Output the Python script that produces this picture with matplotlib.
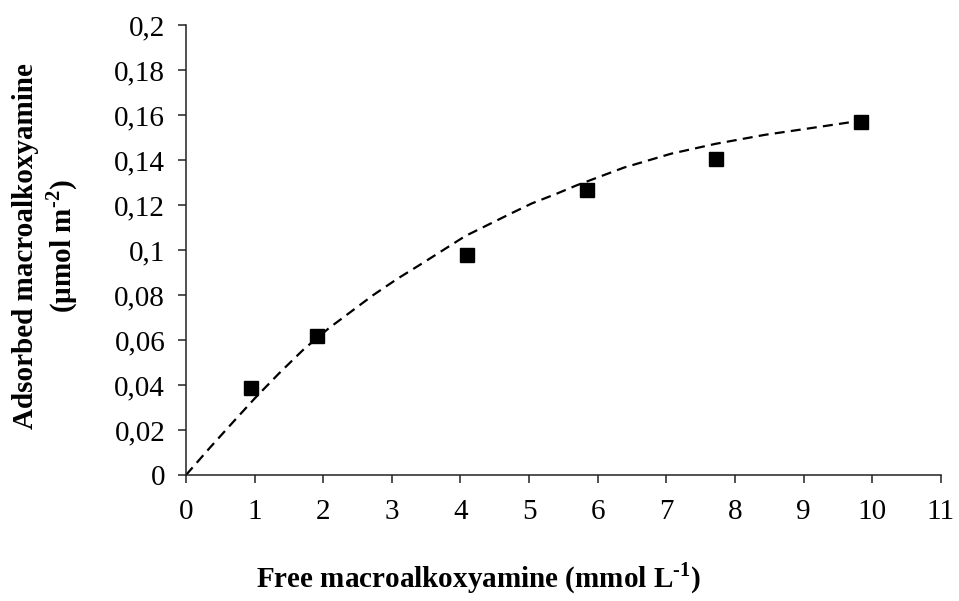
import matplotlib
matplotlib.use('Agg')
import matplotlib.pyplot as plt
from matplotlib.ticker import FuncFormatter, MultipleLocator

# measured points
free_conc = [0.95, 1.91, 4.09, 5.85, 7.72, 9.84]
adsorbed = [0.0388, 0.0617, 0.0978, 0.1265, 0.1405, 0.1568]

# dashed trend line
fit_x = [0.0, 0.35, 0.70, 1.00, 1.35, 1.72, 2.08, 2.73, 3.08, 3.45, 4.07,
         4.72, 5.04, 5.40, 5.69, 6.38, 7.07, 7.72, 8.44, 9.09, 9.84]
fit_y = [0.0, 0.0122, 0.0240, 0.0340, 0.0450, 0.0560, 0.0652, 0.0800,
         0.0872, 0.0942, 0.1062, 0.1160, 0.1207, 0.1250, 0.1287, 0.1366,
         0.1428, 0.1472, 0.1512, 0.1541, 0.1575]

plt.rcParams['font.family'] = ['Liberation Serif', 'DejaVu Serif']
plt.rcParams['mathtext.fontset'] = 'custom'
plt.rcParams['mathtext.rm'] = 'Liberation Serif:bold'
plt.rcParams['mathtext.bf'] = 'Liberation Serif:bold'

fig = plt.figure(figsize=(9.59, 6.01), dpi=100)
ax = fig.add_axes([0.194, 0.2097, 0.787, 0.7487])

ax.plot(fit_x, fit_y, color='black', lw=1.6, ls=(0, (4.5, 2.8)), zorder=2)
ax.plot(free_conc, adsorbed, ls='none', marker='s', ms=10.5, color='black', zorder=3)

ax.set_xlim(0, 11)
ax.set_ylim(0, 0.2)
ax.xaxis.set_major_locator(MultipleLocator(1))
ax.yaxis.set_major_locator(MultipleLocator(0.02))
ax.yaxis.set_major_formatter(FuncFormatter(lambda v, p: f'{v:.2f}'.rstrip('0').rstrip('.').replace('.', ',')))

for s in ['top', 'right']:
    ax.spines[s].set_visible(False)
for s in ['left', 'bottom']:
    ax.spines[s].set_linewidth(1.1)
    ax.spines[s].set_color('#222222')
ax.tick_params(axis='both', direction='out', length=6, width=1.1, colors='#222222',
               labelsize=21, labelcolor='black')
ax.tick_params(axis='x', pad=11)
ax.tick_params(axis='y', pad=9)

fig.text(479 / 959, 1 - 578 / 601, r'Free macroalkoxyamine (mmol L$^{\text{-1}}$)',
         fontsize=21, fontweight='bold', ha='center', va='center')
fig.text(46 / 959, 1 - 246 / 601, 'Adsorbed macroalkoxyamine\n' + r'(µmol m$^{\text{-2}}$)',
         fontsize=21, fontweight='bold', ha='center', va='center', rotation=90,
         multialignment='center', linespacing=1.2)

fig.savefig('out.png', dpi=100)
